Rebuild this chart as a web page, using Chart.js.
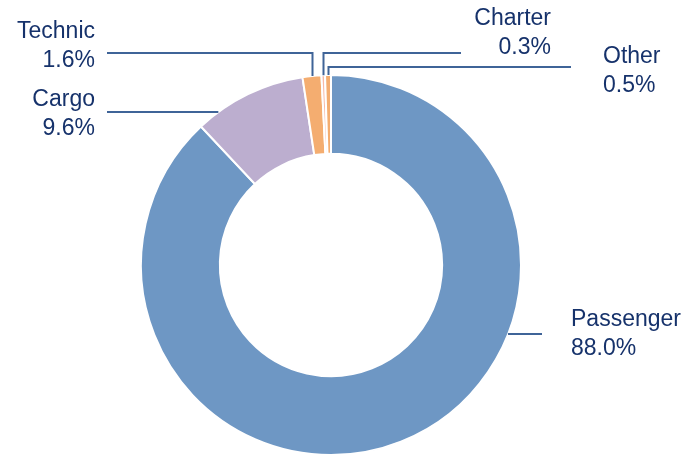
<!DOCTYPE html>
<html>
<head>
<meta charset="utf-8">
<script src="https://cdn.jsdelivr.net/npm/chart.js@4.4.1/dist/chart.umd.min.js"></script>
<style>
  html, body { margin: 0; padding: 0; background: #fff; }
  #wrap { width: 687px; height: 459px; }
</style>
</head>
<body>
<div id="wrap"><canvas id="donut" width="687" height="459"></canvas></div>
<script>
// Revenue split by segment
const categories = ["Passenger", "Cargo", "Technic", "Charter", "Other"];
const shares = [88.0, 9.6, 1.6, 0.3, 0.5];

// Slice colours
const sliceColors = ["#6e97c4", "#bcaecf", "#f4ad70", "#f7b9a6", "#f4ad70"];

const textColor = "#16326b";
const leaderColor = "#3f6498";

// Where each label and its leader line go (layout only)
// mode "radial": start at slice middle on outer edge, go up to lineY, then across
// mode "edge": start where lineY meets the outer edge, go across
const labelLayout = [
  { mode: "edge", side: 1, lineY: 334, lineEndX: 542, textX: 571, textY: 326, align: "left" },
  { mode: "edge", side: -1, lineY: 112, lineEndX: 107, textX: 95, textY: 106, align: "right" },
  { mode: "radial", lineY: 53, lineEndX: 107, textX: 95, textY: 38, align: "right" },
  { mode: "radial", lineY: 53, lineEndX: 461, textX: 551, textY: 25, align: "right" },
  { mode: "radial", lineY: 67, lineEndX: 571, textX: 603, textY: 63, align: "left" },
];

const leaderLabels = {
  id: "leaderLabels",
  afterDatasetsDraw(chart) {
    const ctx = chart.ctx;
    const meta = chart.getDatasetMeta(0);
    const total = shares.reduce((a, b) => a + b, 0);
    ctx.save();
    meta.data.forEach((arc, i) => {
      const lay = labelLayout[i];
      const cx = arc.x, cy = arc.y, r = arc.outerRadius;
      let pts;
      if (lay.mode === "radial") {
        const mid = (arc.startAngle + arc.endAngle) / 2;
        const px = Math.round(cx + Math.cos(mid) * r) + 0.5;
        const py = cy + Math.sin(mid) * r;
        pts = [[px, py], [px, lay.lineY], [lay.lineEndX, lay.lineY]];
      } else {
        const dy = lay.lineY - cy;
        const px = cx + lay.side * Math.sqrt(Math.max(r * r - dy * dy, 0));
        pts = [[px, lay.lineY], [lay.lineEndX, lay.lineY]];
      }
      ctx.strokeStyle = leaderColor;
      ctx.lineWidth = 2;
      ctx.beginPath();
      ctx.moveTo(pts[0][0], pts[0][1]);
      for (let k = 1; k < pts.length; k++) ctx.lineTo(pts[k][0], pts[k][1]);
      ctx.stroke();

      ctx.fillStyle = textColor;
      ctx.font = '23px "Liberation Sans", Arial, sans-serif';
      ctx.textAlign = lay.align;
      ctx.textBaseline = "alphabetic";
      ctx.fillText(categories[i], lay.textX, lay.textY);
      const pct = (shares[i] / total * 100).toFixed(1) + "%";
      ctx.fillText(pct, lay.textX, lay.textY + 29);
    });
    ctx.restore();
  }
};

new Chart(document.getElementById("donut"), {
  type: "doughnut",
  plugins: [leaderLabels],
  data: {
    labels: categories,
    datasets: [{
      data: shares,
      backgroundColor: sliceColors,
      borderColor: "#ffffff",
      borderWidth: 2,
    }],
  },
  options: {
    responsive: false,
    animation: false,
    cutout: "58.5%",
    layout: { padding: { left: 140, right: 165, top: 74, bottom: 3 } },
    plugins: {
      legend: { display: false },
      tooltip: { enabled: false },
    },
  },
});
</script>
</body>
</html>
